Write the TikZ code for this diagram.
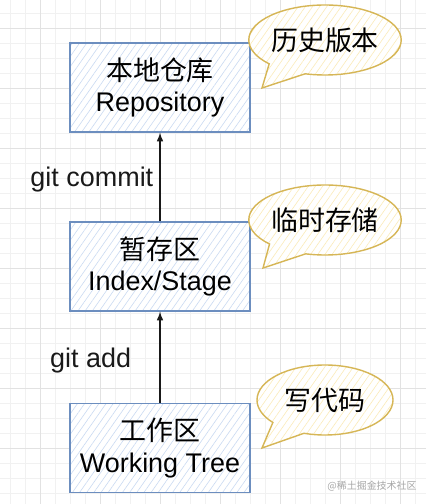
\documentclass[tikz,border=0pt]{standalone}
\usepackage{fontspec}
\setmainfont{Liberation Sans}
\newfontfamily\cjk{Noto Sans CJK SC}
\usepackage{xcolor}
\usetikzlibrary{shapes, shapes.callouts, patterns, patterns.meta, positioning}
\definecolor{areaborda}{HTML}{6C8EBF}
\definecolor{areahatch}{HTML}{C9DAF2}
\definecolor{balaoborda}{HTML}{D6B656}
\definecolor{balaohatch}{HTML}{FBEBB8}
\definecolor{gradefina}{HTML}{F1F1F1}
\definecolor{gradegrossa}{HTML}{E2E2E2}
\tikzset{
	% caixa
	area/.style={
		draw=areaborda,
		line width=1.2pt,
		preaction={fill=white},
		preaction={pattern={Lines[angle=55,distance=5pt,line width=0.5pt]}, pattern color=areahatch},
		minimum width=5.4cm,
		minimum height=2.67cm,
		inner sep=0pt,
		align=center,
		font=\fontsize{23}{27}\selectfont
	}, %
	% balao
	balao/.style={
		ellipse callout,
		draw=balaoborda,
		line width=1.2pt,
		preaction={fill=white},
		preaction={pattern={Lines[angle=55,distance=5pt,line width=0.5pt]}, pattern color=balaohatch},
		minimum width=4.08cm,
		minimum height=2.1cm,
		inner sep=0pt,
		callout pointer arc=32,
		font=\cjk\fontsize{23}{27}\selectfont
	}, %
	% comando
	cmd/.style={
		inner sep=0pt,
		font=\fontsize{23}{27}\selectfont
	} %
}

\begin{document}
\begin{tikzpicture}[x=0.03cm, y=-0.03cm]
	\useasboundingbox[fill=white] (0,0) rectangle (426,504);

	% grade
	\foreach \x in {10,25,...,425}
		\draw[gradefina, line width=0.4pt] (\x,0)--(\x,504);
	\foreach \y in {13,28,...,503}
		\draw[gradefina, line width=0.4pt] (0,\y)--(426,\y);
	\foreach \x in {40,100,...,400}
		\draw[gradegrossa, line width=0.4pt] (\x,0)--(\x,504);
	\foreach \y in {28,88,...,508}
		\draw[gradegrossa, line width=0.4pt] (0,\y)--(426,\y);

	% caixas
	\node[area] (repo) at (160,87.5) {{\cjk 本地仓库}\\Repository};
	\node[area] (index) at (160,266.5) {{\cjk 暂存区}\\Index/Stage};
	\node[area] (work) at (160,448) {{\cjk 工作区}\\Working Tree};

	% setas
	\draw[-latex, line width=1.5pt, black!90] (index)--(repo)
	node [midway, left=5pt, cmd, yshift=-2pt] {git commit};
	\draw[-latex, line width=1.5pt, black!90] (work)--(index)
	node [midway, left=0.84cm, cmd, yshift=-3pt] {git add};

	% baloes
	\node[balao, callout absolute pointer={(262,88)}] (hist) at (325,40) {历史版本};
	\node[balao, callout absolute pointer={(263,268)}] (temp) at (325,220) {临时存储};
	\node[balao, callout absolute pointer={(262,448)}] (code) at (325,400) {写代码};

	% marca
	\node[gray!70, font=\cjk\fontsize{8.5}{10}\selectfont] (marca) at (372,486) {@稀土掘金技术社区};
\end{tikzpicture}
\end{document}
